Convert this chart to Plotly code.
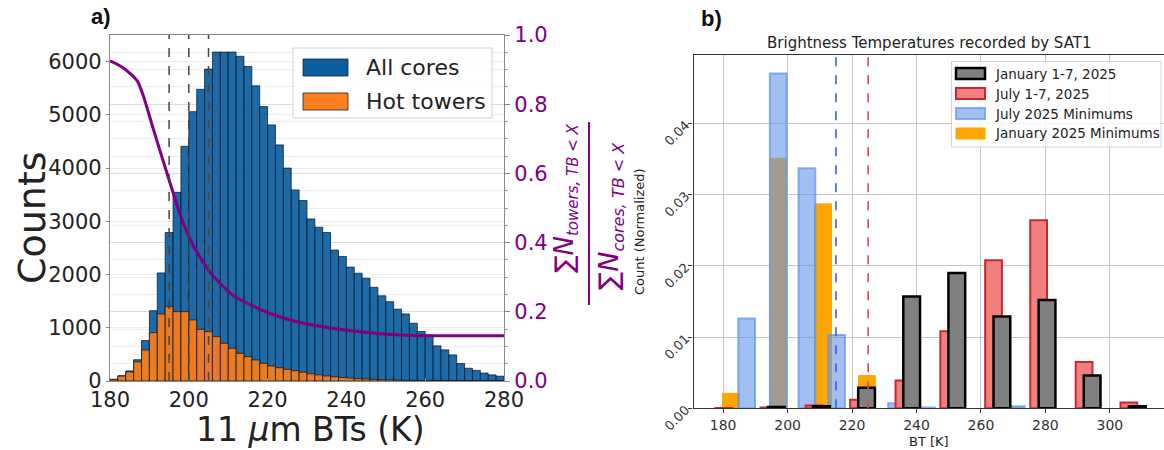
import plotly.graph_objects as go

W, H = 1164, 450

# ---------------- Panel a data ----------------
bt_bin_left = [180, 182, 184, 186, 188, 190, 192, 194, 196, 198,
               200, 202, 204, 206, 208, 210, 212, 214, 216, 218,
               220, 222, 224, 226, 228, 230, 232, 234, 236, 238,
               240, 242, 244, 246, 248, 250, 252, 254, 256, 258,
               260, 262, 264, 266, 268, 270, 272, 274, 276, 278]
all_cores = [32, 100, 190, 400, 760, 1320, 2030, 2790, 3545, 4410,
             5060, 5480, 5860, 6180, 6180, 6180, 6100, 5910, 5545, 5155,
             4810, 4435, 4000, 3590, 3390, 3045, 2890, 2790, 2460, 2340,
             2140, 2025, 1930, 1760, 1600, 1490, 1350, 1260, 1085, 930,
             865, 660, 585, 490, 330, 240, 200, 150, 115, 90]
hot_towers = [30, 92, 170, 360, 583, 908, 1259, 1397, 1303, 1303,
              1147, 971, 927, 833, 708, 614, 520, 457, 395, 332,
              282, 250, 220, 194, 165, 135, 115, 95, 80, 65,
              55, 45, 38, 30, 25, 20, 16, 12, 10, 8,
              6, 5, 4, 3, 2, 2, 1, 1, 1, 1]
ratio_tb = [180, 182.5, 185, 187, 188.5, 191, 193.6, 196, 198.2, 201.2,
            205.4, 211.4, 220, 228.3, 236.8, 245.3, 253.8, 262.3, 280]
ratio_val = [0.925, 0.911, 0.89, 0.866, 0.823, 0.728, 0.632, 0.545, 0.468, 0.39,
             0.314, 0.246, 0.198, 0.169, 0.152, 0.14, 0.133, 0.131, 0.131]
tb_thresholds = [195, 200, 205]
a_xticks = [180, 200, 220, 240, 260, 280]
a_yticks = [0, 1000, 2000, 3000, 4000, 5000, 6000]
a_y2ticks = [0.0, 0.2, 0.4, 0.6, 0.8, 1.0]
a_legend_labels = ["All cores", "Hot towers"]

# ---------------- Panel b data ----------------
jan_week_x = [196.5, 210.5, 224.5, 238.5, 252.5, 266.5, 280.5, 294.5, 308.5]
jan_week_y = [0.0002, 0.0003, 0.0029, 0.0157, 0.0190, 0.0129, 0.0152, 0.0046, 0.0003]
jul_week_x = [180.2, 194.2, 208.2, 222.0, 236.1, 250.0, 263.9, 277.9, 292.0, 305.9]
jul_week_y = [0.00005, 0.0001, 0.0004, 0.0012, 0.0039, 0.0108, 0.0208, 0.0264, 0.0065, 0.0008]
jul_min_x = [187.3, 197.1, 206.0, 215.2, 233.8, 243.1, 271.0]
jul_min_y = [0.0126, 0.0470, 0.0337, 0.0103, 0.0007, 0.0001, 0.0003]
jan_min_x = [182.4, 197.1, 211.0, 224.6]
jan_min_y = [0.0021, 0.0351, 0.0287, 0.0046]
b_thresholds = [215, 225]
b_xticks = [180, 200, 220, 240, 260, 280, 300]
b_yticks = [0.00, 0.01, 0.02, 0.03, 0.04]
b_legend_labels = ["January 1-7, 2025", "July 1-7, 2025",
                   "July 2025 Minimums", "January 2025 Minimums"]

FONT = "DejaVu Sans"
PURPLE = "#800080"


def px(x):
    return x / W


def py(y):
    return 1 - y / H


fig = go.Figure()

# Panel a bars
fig.add_trace(go.Bar(x=bt_bin_left, y=all_cores, width=2, offset=0,
                     marker=dict(color="rgba(10,95,162,0.93)",
                                 line=dict(color="rgba(20,20,20,0.9)", width=0.8)),
                     xaxis="x", yaxis="y", showlegend=False, name=a_legend_labels[0]))
fig.add_trace(go.Bar(x=bt_bin_left, y=hot_towers, width=2, offset=0,
                     marker=dict(color="rgba(255,125,20,0.9)",
                                 line=dict(color="rgba(20,20,20,0.9)", width=0.8)),
                     xaxis="x", yaxis="y", showlegend=False, name=a_legend_labels[1]))
fig.add_trace(go.Scatter(x=ratio_tb, y=ratio_val, mode="lines",
                         line=dict(color=PURPLE, width=3, shape="spline", smoothing=0.6),
                         xaxis="x", yaxis="y2", showlegend=False))

# Panel b bars (draw order: orange, light blue, red, grey)
bw = 5.2
fig.add_trace(go.Bar(x=jan_min_x, y=jan_min_y, width=bw,
                     marker=dict(color="#FFA500", line=dict(color="#FFA500", width=1)),
                     xaxis="x3", yaxis="y3", showlegend=False, name=b_legend_labels[3]))
fig.add_trace(go.Bar(x=jul_min_x, y=jul_min_y, width=bw,
                     marker=dict(color="rgba(100,149,237,0.6)",
                                 line=dict(color="rgba(100,149,237,0.75)", width=2)),
                     xaxis="x3", yaxis="y3", showlegend=False, name=b_legend_labels[2]))
fig.add_trace(go.Bar(x=jul_week_x, y=jul_week_y, width=bw,
                     marker=dict(color="#F08080", line=dict(color="#C8282D", width=2)),
                     xaxis="x3", yaxis="y3", showlegend=False, name=b_legend_labels[1]))
fig.add_trace(go.Bar(x=jan_week_x, y=jan_week_y, width=bw,
                     marker=dict(color="#808080", line=dict(color="#000000", width=2.5)),
                     xaxis="x3", yaxis="y3", showlegend=False, name=b_legend_labels[0]))

# Threshold lines
for v in tb_thresholds:
    fig.add_shape(type="line", x0=v, x1=v, xref="x", y0=0, y1=1, yref="y domain",
                  line=dict(color="#444444", width=1.5, dash="dash"), layer="above")
for v, c in zip(b_thresholds, ["#3b5fe0", "#d9484f"]):
    fig.add_shape(type="line", x0=v, x1=v, xref="x3", y0=0, y1=1, yref="y3 domain",
                  line=dict(color=c, width=1.6, dash="dash"), layer="above")

shapes = []
annotations = []


def label(text, x, y, size, color="#222222", angle=0, xanchor="center", family=FONT):
    annotations.append(dict(text=text, xref="paper", yref="paper", x=px(x), y=py(y),
                            xanchor=xanchor, yanchor="middle", textangle=angle,
                            showarrow=False, font=dict(family=family, size=size, color=color)))


# Panel a legend
shapes.append(dict(type="rect", xref="paper", yref="paper", x0=px(293), x1=px(492),
                   y0=py(118), y1=py(48), fillcolor="rgba(255,255,255,0.85)",
                   line=dict(color="#d0d0d0", width=1), layer="above"))
for lab, yc, col in zip(a_legend_labels, [67.5, 101.5], ["#0a5fa2", "#ff7f1e"]):
    shapes.append(dict(type="rect", xref="paper", yref="paper", x0=px(303), x1=px(348),
                       y0=py(yc + 8.5), y1=py(yc - 8.5), fillcolor=col,
                       line=dict(color="#222222", width=0.8), layer="above"))
    label(lab, 364, yc, 22, xanchor="left")

# Panel b legend
shapes.append(dict(type="rect", xref="paper", yref="paper", x0=px(951.5), x1=px(1161),
                   y0=py(147), y1=py(61.5), fillcolor="rgba(255,255,255,0.85)",
                   line=dict(color="#d0d0d0", width=1), layer="above"))
b_leg_styles = [("#808080", "#000000", 2.5), ("#F08080", "#C8282D", 2),
                ("rgba(100,149,237,0.6)", "rgba(100,149,237,0.75)", 2), ("#FFA500", "#FFA500", 1)]
for i, (lab, (fc, lc, lw)) in enumerate(zip(b_legend_labels, b_leg_styles)):
    yc = 73.5 + 20 * i
    shapes.append(dict(type="rect", xref="paper", yref="paper", x0=px(956), x1=px(985),
                       y0=py(yc + 5.5), y1=py(yc - 5.5), fillcolor=fc,
                       line=dict(color=lc, width=lw), layer="above"))
    label(lab, 993, yc, 13.5, xanchor="left")

# Fraction label (right axis of panel a)
label("∑<i>N</i><sub><span style='font-size:15px'><i>towers, TB &lt; X</i></span></sub>",
      566, 198, 26, color=PURPLE, angle=-90)
label("∑<i>N</i><sub><span style='font-size:16px'><i>cores, TB &lt; X</i></span></sub>",
      610, 216, 27, color=PURPLE, angle=-90)
shapes.append(dict(type="line", xref="paper", yref="paper", x0=px(589), x1=px(589),
                   y0=py(122), y1=py(305), line=dict(color=PURPLE, width=2)))

# Axis titles / panel labels
label("Counts", 32, 218, 38, angle=-90)
label("11 <i>μ</i>m BTs (K)", 310, 429, 33)
label("<b>a)</b>", 101, 16, 22, color="#111111", family="Liberation Sans")
label("<b>b)</b>", 711, 18, 22, color="#111111", family="Liberation Sans")
label("Brightness Temperatures recorded by SAT1", 929, 43, 15)
label("Count (Normalized)", 639, 232, 13, angle=-90)
label("BT [K]", 929, 441, 13)

fig.update_layout(
    width=W, height=H, margin=dict(l=0, r=0, t=0, b=0, pad=0, autoexpand=False),
    paper_bgcolor="white", plot_bgcolor="white",
    barmode="overlay", showlegend=False,
    font=dict(family=FONT, color="#222222"),
    xaxis=dict(domain=[px(110), px(504)], range=[180, 280], anchor="y", automargin=False,
               tickvals=a_xticks, tickfont=dict(size=21, color="#222222"),
               showline=True, linecolor="#888888", linewidth=1.2, mirror=True,
               ticks="inside", ticklen=3, tickcolor="#888888", showgrid=False, zeroline=False),
    yaxis=dict(domain=[py(381), py(35)], range=[0, 6500], anchor="x", automargin=False,
               tickvals=a_yticks, tickfont=dict(size=21, color="#222222"),
               showline=True, linecolor="#888888", linewidth=1.2,
               ticks="outside", ticklen=3, tickcolor="#888888",
               showgrid=True, gridcolor="#eeeeee", gridwidth=1, zeroline=False),
    yaxis2=dict(overlaying="y", side="right", anchor="x", range=[0, 1], automargin=False,
                tickvals=a_y2ticks, tickformat=".1f",
                tickfont=dict(size=21, color=PURPLE),
                showline=True, linecolor="#888888", linewidth=1.2,
                ticks="outside", ticklen=5, tickcolor="#888888",
                showgrid=True, gridcolor="#dddddd", gridwidth=1, zeroline=False,
                minor=dict(dtick=0.05, ticks="outside", ticklen=3, tickcolor="#999999",
                           showgrid=True, gridcolor="#eeeeee")),
    xaxis3=dict(domain=[px(693.5), 1.0], range=[170.8, 316.8], anchor="y3", automargin=False,
                tickvals=b_xticks, tickfont=dict(size=14, color="#333333"),
                showline=True, linecolor="#333333", linewidth=1.2, mirror=True,
                ticks="outside", ticklen=4, tickcolor="#333333",
                showgrid=True, gridcolor="#c4c4c4", gridwidth=1.2, zeroline=False),
    yaxis3=dict(domain=[py(408.3), py(55)], range=[0, 0.0496], anchor="x3", automargin=False,
                tickvals=b_yticks, tickformat=".2f", tickangle=-45,
                tickfont=dict(size=13, color="#333333"),
                showline=True, linecolor="#333333", linewidth=1.2, mirror=False,
                ticks="outside", ticklen=4, tickcolor="#333333",
                showgrid=True, gridcolor="#c4c4c4", gridwidth=1.2, zeroline=False),
    shapes=list(fig.layout.shapes) + shapes,
    annotations=annotations,
)

fig.write_html("out.html")
